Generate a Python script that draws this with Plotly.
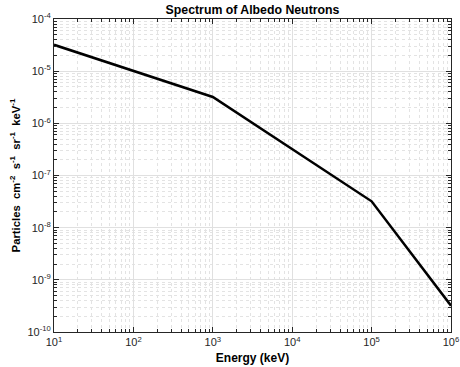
import plotly.graph_objects as go

energy_kev = [1e1, 1e3, 1e5, 1e6]
flux = [3.2e-5, 3.2e-6, 3.2e-8, 3.2e-10]

x_tickvals = [1e1, 1e2, 1e3, 1e4, 1e5, 1e6]
x_ticktext = ["10<sup>1</sup>", "10<sup>2</sup>", "10<sup>3</sup>", "10<sup>4</sup>", "10<sup>5</sup>", "10<sup>6</sup>"]
y_tickvals = [1e-10, 1e-9, 1e-8, 1e-7, 1e-6, 1e-5, 1e-4]
y_ticktext = ["10<sup>-10</sup>", "10<sup>-9</sup>", "10<sup>-8</sup>", "10<sup>-7</sup>", "10<sup>-6</sup>", "10<sup>-5</sup>", "10<sup>-4</sup>"]

fig = go.Figure()
fig.add_trace(go.Scatter(x=energy_kev, y=flux, mode="lines",
                         line=dict(color="black", width=2.5), showlegend=False))

axis_common = dict(
    type="log", automargin=False,
    showline=True, linecolor="#262626", linewidth=1, mirror="allticks",
    ticks="inside", ticklen=5, tickcolor="#262626",
    showgrid=True, gridcolor="#e0e0e0", gridwidth=1,
    zeroline=False,
    tickfont=dict(family="Liberation Sans, Arial, sans-serif", size=11, color="#262626"),
    minor=dict(showgrid=True, gridcolor="#e3e3e3", griddash="dot", ticks="inside",
               ticklen=3, tickcolor="#262626", dtick="D1"),
)

fig.update_xaxes(**axis_common, range=[1, 6], tickvals=x_tickvals, ticktext=x_ticktext,
                 title=dict(text="<b>Energy (keV)</b>", standoff=6,
                            font=dict(family="Liberation Sans, Arial, sans-serif", size=12, color="black")))
fig.update_yaxes(**axis_common, range=[-10, -4], tickvals=y_tickvals, ticktext=y_ticktext,
                 title=dict(text="<b>Particles  cm<sup>-2</sup>  s<sup>-1</sup>  sr<sup>-1</sup>  keV<sup>-1</sup></b>",
                            standoff=4,
                            font=dict(family="Liberation Sans, Arial, sans-serif", size=11.3, color="black")))

fig.update_layout(
    width=460, height=367,
    margin=dict(l=54, r=9, t=19, b=35),
    paper_bgcolor="white", plot_bgcolor="white",
    title=dict(text="<b>Spectrum of Albedo Neutrons</b>", x=0.5, xanchor="center",
               xref="paper", y=1, yref="container", yanchor="top", pad=dict(t=5),
               font=dict(family="Liberation Sans, Arial, sans-serif", size=12.3, color="black")),
)

fig.write_html("out.html")
